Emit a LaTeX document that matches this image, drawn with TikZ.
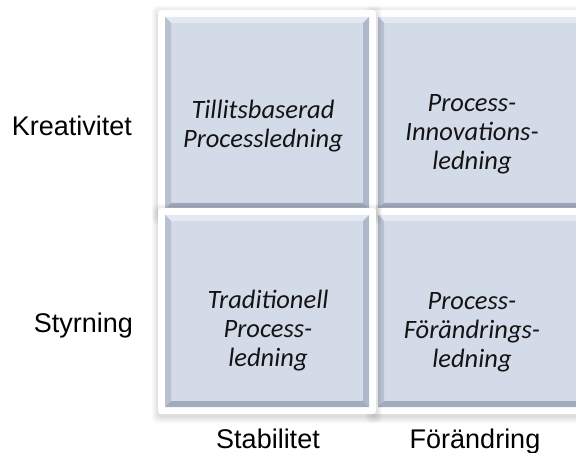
\documentclass[tikz,border=0pt]{standalone}
\usepackage{fontspec}
\setmainfont{Liberation Sans}
\newfontfamily\tilefont{Carlito}

\definecolor{face}{HTML}{D4DBE8}
\definecolor{bevtop}{HTML}{E3E8F1}
\definecolor{bevleft}{HTML}{B8C0D2}
\definecolor{bevright}{HTML}{AFB7CA}
\definecolor{bevbottom}{HTML}{A2AABE}

\tikzset{
  tile/.style={fill=face, minimum width=204bp, minimum height=192bp, inner sep=0pt, outer sep=0pt},
  tiletext/.style={font=\tilefont\itshape\fontsize{26.5bp}{29bp}\selectfont, align=center, text=black!92, inner sep=0pt},
  axis/.style={font=\fontsize{27bp}{32bp}\selectfont, inner sep=0pt, text=black}
}

\begin{document}
\begin{tikzpicture}[x=1bp, y=-1bp]
\useasboundingbox (0,0) rectangle (576,453);
\clip (0,0) rectangle (576,453);

% tiles (right column first, the left frames lie over them)
\coordinate (trc) at (480,113);
\coordinate (brc) at (480,311);
\coordinate (tlc) at (267,113);
\coordinate (blc) at (267,311);

\foreach \n in {tr,br,tl,bl} {
  \node[tile, draw=none, fill=none, minimum width=218bp, minimum height=206bp] (\n f) at (\n c) {};
  \foreach \i in {1,...,7}
    \fill[black, opacity=0.02, rounded corners=5bp] ([shift={(-\i+1,-\i+3)}]\n f.north west) rectangle ([shift={(\i-1,\i+2)}]\n f.south east);
  \fill[white, rounded corners=3bp] (\n f.north west) rectangle (\n f.south east);
  \node[tile] (\n) at (\n c) {};
  \fill[bevtop] (\n.north west) -- (\n.north east) -- ([shift={(-6,6)}]\n.north east) -- ([shift={(6,6)}]\n.north west) -- cycle;
  \fill[bevleft] (\n.north west) -- ([shift={(6,6)}]\n.north west) -- ([shift={(6,-6)}]\n.south west) -- (\n.south west) -- cycle;
  \fill[bevright] (\n.north east) -- ([shift={(-6,6)}]\n.north east) -- ([shift={(-6,-6)}]\n.south east) -- (\n.south east) -- cycle;
  \fill[bevbottom] (\n.south west) -- ([shift={(6,-6)}]\n.south west) -- ([shift={(-6,-6)}]\n.south east) -- (\n.south east) -- cycle;
}

% texts in the tiles
\node[tiletext] (tillit) at (263,126) {Tillitsbaserad\\Processledning};
\node[tiletext] (innov) at (472,134) {Process-\\Innovations-\\ledning};
\node[tiletext] (trad) at (268,331) {Traditionell\\Process-\\ledning};
\node[tiletext] (forand) at (472,332) {Process-\\Förändrings-\\ledning};

% axis labels
\node[axis, anchor=base east] (kreativitet) at (132,136) {Kreativitet};
\node[axis, anchor=base east] (styrning) at (133,332) {Styrning};
\node[axis, anchor=base] (stabilitet) at (268,448) {Stabilitet};
\node[axis, anchor=base] (forandring) at (475,448) {Förändring};
\end{tikzpicture}
\end{document}
